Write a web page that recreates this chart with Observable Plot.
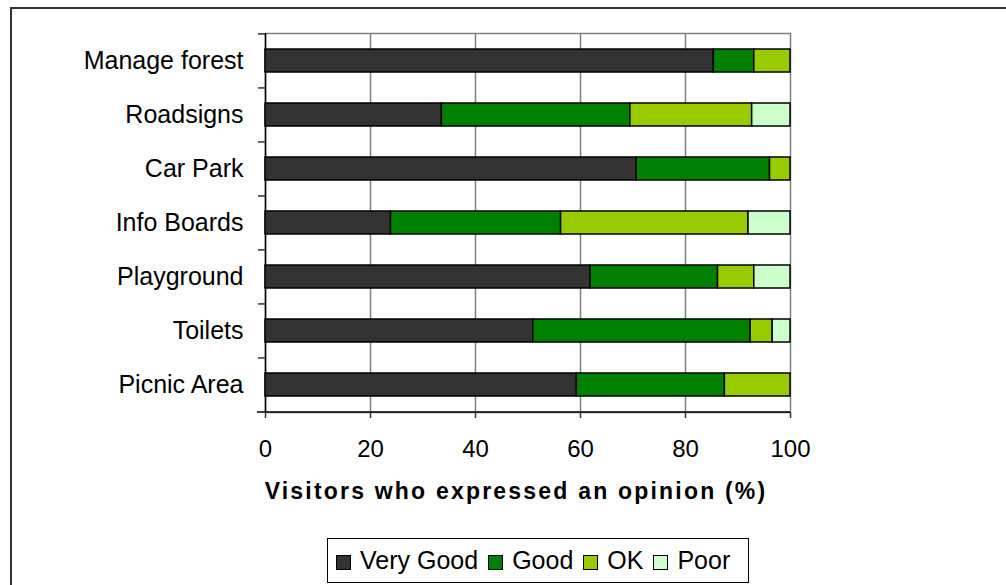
<!DOCTYPE html>
<html>
<head>
<meta charset="utf-8">
<script src="https://cdn.jsdelivr.net/npm/d3@7"></script>
<script src="https://cdn.jsdelivr.net/npm/@observablehq/plot@0.6"></script>
<style>
  html, body { margin: 0; padding: 0; background: #fff; }
  #wrap { position: relative; width: 1006px; height: 585px; overflow: hidden; font-family: "Liberation Sans", Arial, sans-serif; }
  #border { position: absolute; left: 10px; top: 7px; width: 1100px; height: 700px; border-left: 2px solid #333; border-top: 2px solid #333; }
  #chart { position: absolute; left: 0; top: 0; }
  #chart g[aria-label="text"] text { letter-spacing: 2.2px; }
  #legend { position: absolute; left: 327px; top: 538px; width: 422px; height: 45px; border: 1px solid #000; background: #fff;
            display: flex; align-items: center; box-sizing: border-box; padding-left: 8px; font-size: 25px; color: #000; }
  .item { display: flex; align-items: center; margin-right: 10px; }
  .sw { width: 13px; height: 13px; border: 1px solid #000; margin-right: 9px; margin-top: 3px; }
</style>
</head>
<body>
<div id="wrap">
  <div id="border"></div>
  <div id="chart"></div>
  <div id="legend"></div>
</div>
<script>
const categories = ["Manage forest", "Roadsigns", "Car Park", "Info Boards", "Playground", "Toilets", "Picnic Area"];
const ratings = ["Very Good", "Good", "OK", "Poor"];
const colors = ["#333333", "#008000", "#99cc00", "#ccffcc"];
const veryGood = [85.4, 33.6, 70.7, 23.9, 61.9, 51.0, 59.3];
const good     = [7.7, 35.9, 25.4, 32.4, 24.3, 41.4, 28.2];
const ok       = [6.9, 23.2, 3.9, 35.7, 6.9, 4.2, 12.5];
const poor     = [0, 7.3, 0, 8.0, 6.9, 3.4, 0];
const xTicks = [0, 20, 40, 60, 80, 100];
const gridTicks = [20, 40, 60, 80];
const xTitle = "Visitors who expressed an opinion (%)";

const series = [veryGood, good, ok, poor];
const data = [];
categories.forEach((c, i) => {
  series.forEach((s, k) => {
    if (s[i] > 0) data.push({category: c, rating: ratings[k], value: s[i]});
  });
});

const W = 1006, H = 538;
const mL = 265, mR = 216, mT = 33, mB = H - 412;
const plotW = W - mL - mR, plotH = H - mT - mB;
const step = plotH / categories.length;

const chart = Plot.plot({
  width: W, height: H,
  marginLeft: mL, marginRight: mR, marginTop: mT, marginBottom: mB,
  style: {fontFamily: "'Liberation Sans', Arial, sans-serif", fontSize: "24px", color: "#000", background: "transparent"},
  x: {domain: [0, 100], axis: null},
  y: {domain: categories, paddingInner: 0.57, paddingOuter: 0.285, axis: null},
  color: {domain: ratings, range: colors},
  marks: [
    Plot.ruleX(gridTicks, {stroke: "#808080", strokeWidth: 1.5}),
    Plot.frame({stroke: "#808080", strokeWidth: 1.5}),
    Plot.ruleX([0], {stroke: "#000", strokeWidth: 1.5}),
    Plot.ruleY(categories, {dy: -step / 2, dx: -7, insetRight: plotW - 7, stroke: "#333", strokeWidth: 1.5}),
    Plot.ruleY(categories.slice(-1), {dy: step / 2, insetLeft: -8, stroke: "#000", strokeWidth: 1.5}),
    Plot.barX(data, {x: "value", y: "category", fill: "rating", stroke: "#000", strokeWidth: 1.5}),
    Plot.axisX({ticks: xTicks, tickSize: 6, tickPadding: 21, fontSize: 24, stroke: "#333", strokeWidth: 1.5, label: null}),
    Plot.axisY({tickSize: 0, tickPadding: 22, fontSize: 25, label: null}),
    Plot.text([xTitle], {frameAnchor: "bottom", dy: 86, dx: -12, fontWeight: "bold", fontSize: 23, fill: "#000"})
  ]
});
document.getElementById("chart").appendChild(chart);

const legend = document.getElementById("legend");
ratings.forEach((r, k) => {
  const it = document.createElement("div");
  it.className = "item";
  const sw = document.createElement("div");
  sw.className = "sw";
  sw.style.background = colors[k];
  const t = document.createElement("span");
  t.textContent = r;
  it.appendChild(sw); it.appendChild(t);
  legend.appendChild(it);
});
</script>
</body>
</html>
